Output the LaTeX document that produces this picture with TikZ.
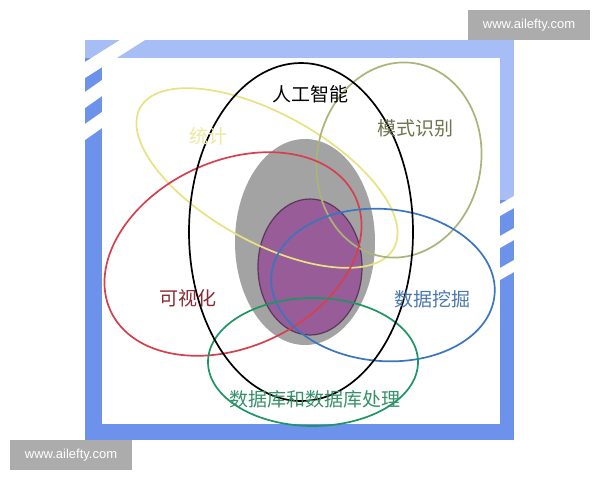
\documentclass[tikz,border=0pt]{standalone}
\usepackage{fontspec}
\setsansfont{Liberation Sans}
\newfontfamily\cjk{Noto Sans CJK SC}
\usepackage{tikz}
\usetikzlibrary{positioning}
\definecolor{framebl}{RGB}{108,146,236}
\definecolor{framelt}{RGB}{166,190,245}
\definecolor{statyel}{RGB}{232,226,130}
\definecolor{pattol}{RGB}{170,180,120}
\definecolor{visred}{RGB}{214,64,78}
\definecolor{minebl}{RGB}{58,118,190}
\definecolor{dbgrn}{RGB}{30,150,100}
\definecolor{coregr}{RGB}{163,163,163}
\definecolor{corepu}{RGB}{152,92,152}
\tikzset{
x=1pt, y=-1pt, % one unit is one pixel of the picture, y runs downwards
set/.style={line width=1.7pt}, % sets the outline of every set
label/.style={font=\cjk\fontsize{19}{22}\selectfont, inner sep=0pt}, % sets the text of every set
mark box/.style={fill=gray!65, text=white, font=\sffamily\fontsize{13}{15}\selectfont,
  minimum width=122pt, minimum height=30pt, inner sep=0pt}, % sets the grey site tags
}
\begin{document}
\begin{tikzpicture}
    \useasboundingbox (0,0) rectangle (600,480);
    % frame
    \fill[framebl] (85,40) rectangle (514,440);
    \fill[framelt] (85,40) rectangle (514,58);
    \fill[framelt] (500,58) rectangle (514,200);
    \fill[white] (85,62) -- (120,40) -- (145,40) -- (85,78) -- cycle;
    \fill[white] (85,92) -- (102,80) -- (102,96) -- (85,108) -- cycle;
    \fill[white] (85,124) -- (102,112) -- (102,128) -- (85,140) -- cycle;
    \fill[white] (500,204) -- (514,196) -- (514,208) -- (500,216) -- cycle;
    \fill[white] (500,236) -- (514,228) -- (514,240) -- (500,248) -- cycle;
    \fill[white] (500,268) -- (514,260) -- (514,272) -- (500,280) -- cycle;
    \fill[white] (102,58) rectangle (500,424);
    % core of the sets
    \fill[coregr] (305,242) ellipse [x radius=70, y radius=103];
    \filldraw[fill=corepu, draw=corepu!60!black, line width=1.2pt] (310,267) ellipse [x radius=52, y radius=68];
    % sets
    \draw[set, statyel] (267,178) circle [x radius=145, y radius=64, rotate=-29];
    \draw[set, pattol] (399,160) circle [x radius=82, y radius=98, rotate=-10];
    \draw[set, visred] (233,254) circle [x radius=135, y radius=93, rotate=25];
    \draw[set, minebl] (383,285) circle [x radius=112, y radius=76, rotate=-5];
    \draw[set, dbgrn] (313,362) ellipse [x radius=105, y radius=64];
    \draw[set, black] (301,232) ellipse [x radius=112, y radius=169];
    % texts
    \node[label, black] (ai) at (310,94) {人工智能};
    \node[label, statyel!75!white] (stat) at (208,136) {统计};
    \node[label, pattol!65!black] (pattern) at (415,128) {模式识别};
    \node[label, visred!65!black] (vis) at (188,298) {可视化};
    \node[label, minebl!75!gray] (mining) at (432,299) {数据挖掘};
    \node[label, dbgrn!75!gray] (db) at (315,399) {数据库和数据库处理};
    % site tags
    \node[mark box] (tagtop) at (529,25) {www.ailefty.com};
    \node[mark box] (tagbot) at (71,455) {www.ailefty.com};
  \end{tikzpicture}
\end{document}
